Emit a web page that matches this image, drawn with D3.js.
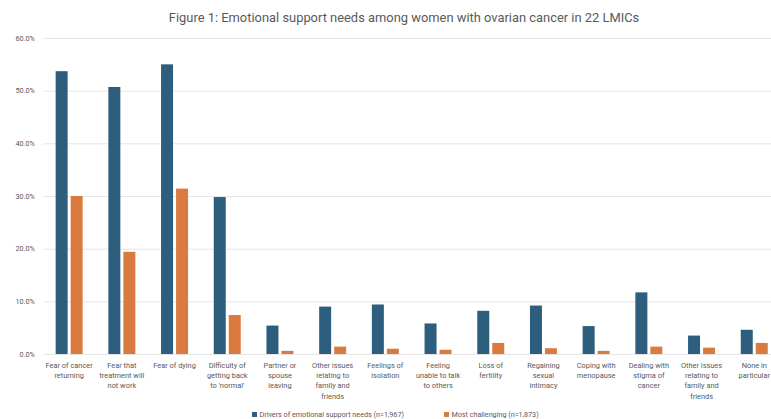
<!DOCTYPE html>
<html>
<head>
<meta charset="utf-8">
<script src="https://cdn.jsdelivr.net/npm/d3@7"></script>
<style>
  html, body { margin: 0; padding: 0; background: #ffffff; }
  svg { display: block; }
  text { font-family: Roboto, "Liberation Sans", sans-serif; }
</style>
</head>
<body>
<svg id="chart" width="771" height="419"></svg>
<script>
const title = "Figure 1: Emotional support needs among women with ovarian cancer in 22 LMICs";
const categories = [
  "Fear of cancer\nreturning",
  "Fear that\ntreatment will\nnot work",
  "Fear of dying",
  "Difficulty of\ngetting back\nto 'normal'",
  "Partner or\nspouse\nleaving",
  "Other issues\nrelating to\nfamily and\nfriends",
  "Feelings of\nisolation",
  "Feeling\nunable to talk\nto others",
  "Loss of\nfertility",
  "Regaining\nsexual\nintimacy",
  "Coping with\nmenopause",
  "Dealing with\nstigma of\ncancer",
  "Other issues\nrelating to\nfamily and\nfriends",
  "None in\nparticular"
];
const seriesNames = ["Drivers of emotional support needs (n=1,967)", "Most challenging (n=1,873)"];
const drivers = [0.537, 0.507, 0.550, 0.298, 0.054, 0.090, 0.094, 0.058, 0.082, 0.092, 0.053, 0.117, 0.035, 0.046];
const mostChallenging = [0.300, 0.194, 0.314, 0.074, 0.006, 0.014, 0.010, 0.008, 0.021, 0.011, 0.006, 0.014, 0.012, 0.021];
const yTicks = [0, 0.1, 0.2, 0.3, 0.4, 0.5, 0.6];
const colors = ["#2e5e7e", "#db7a3f"];

const svg = d3.select("#chart");
const W = 771, H = 419;
const plotLeft = 42.8, plotRight = 780.6, yTop = 38, yBottom = 354;

const idx = d3.range(categories.length);
const x0 = d3.scaleBand().domain(idx).range([plotLeft, plotRight]).padding(0);
const half = 13.5;
const x1 = d3.scaleBand().domain([0, 1])
  .range([x0.bandwidth() / 2 - half, x0.bandwidth() / 2 + half])
  .paddingInner(0.2).paddingOuter(0);
const y = d3.scaleLinear().domain([0, 0.6]).range([yBottom, yTop]);

// Title
svg.append("text")
  .attr("x", 404).attr("y", 22)
  .attr("text-anchor", "middle")
  .attr("font-size", 12.9)
  .attr("fill", "#595959")
  .text(title);

// Grid + y axis
const yAxis = d3.axisLeft(y).tickValues(yTicks).tickFormat(d3.format(".1%"))
  .tickSize(-(W - plotLeft)).tickPadding(8);
const gy = svg.append("g").attr("transform", `translate(${plotLeft},0)`).call(yAxis);
gy.select(".domain").remove();
gy.selectAll(".tick line").attr("stroke", "#e6e6e6").attr("stroke-width", 1);
gy.selectAll(".tick text").attr("fill", "#595959").attr("font-size", 7.2)
  .attr("font-family", "Roboto, 'Liberation Sans', sans-serif");

// Bars
const data = idx.map(i => ({ i, vals: [drivers[i], mostChallenging[i]] }));
const groups = svg.append("g").selectAll("g").data(data).join("g")
  .attr("transform", d => `translate(${x0(d.i)},0)`);
groups.selectAll("rect").data(d => d.vals.map((v, s) => ({ v, s }))).join("rect")
  .attr("x", d => x1(d.s))
  .attr("width", x1.bandwidth())
  .attr("y", d => y(d.v))
  .attr("height", d => y(0) - y(d.v))
  .attr("fill", d => colors[d.s]);

// X axis labels
const xAxis = d3.axisBottom(x0).tickSize(0).tickFormat("");
const gx = svg.append("g").attr("transform", `translate(0,${yBottom})`).call(xAxis);
gx.select(".domain").remove();
gx.selectAll(".tick").each(function (d) {
  const lines = categories[d].split("\n");
  const t = d3.select(this).append("text")
    .attr("text-anchor", "middle")
    .attr("fill", "#595959")
    .attr("font-size", 7.4)
    .attr("y", 13.5);
  lines.forEach((ln, k) => {
    t.append("tspan").attr("x", 0).attr("dy", k === 0 ? 0 : 10.4).text(ln);
  });
});

// Legend
const legend = svg.append("g");
const legendX = [252, 444];
seriesNames.forEach((name, s) => {
  const g = legend.append("g").attr("transform", `translate(${legendX[s]},415)`);
  g.append("rect").attr("x", 0).attr("y", -3).attr("width", 5).attr("height", 5).attr("fill", colors[s]);
  g.append("text").attr("x", 7.5).attr("y", 2.2).attr("font-size", 7.2).attr("fill", "#595959").text(name);
});
</script>
</body>
</html>
